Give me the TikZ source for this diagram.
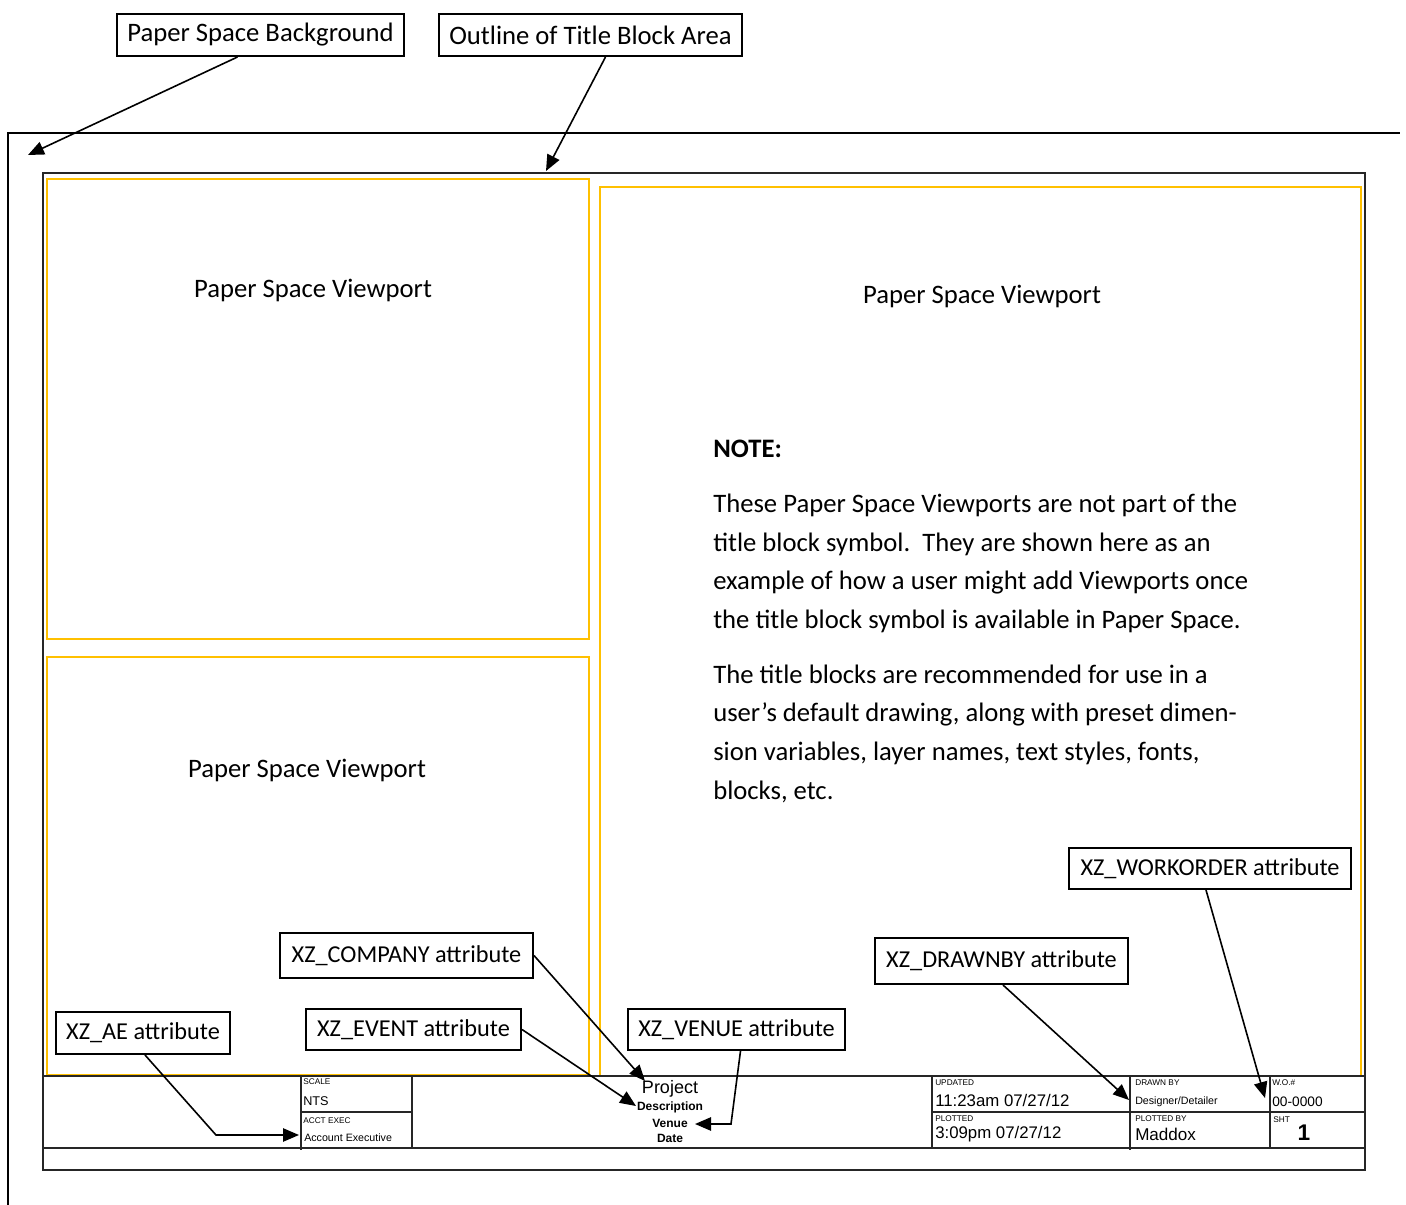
\documentclass[tikz,border=0pt]{standalone}
\usepackage{fontspec}
\setmainfont{Carlito}
\newfontfamily\arialf{Liberation Sans}
\usetikzlibrary{arrows.meta,calc}
\begin{document}
\begin{tikzpicture}[x=0.75pt,y=-0.75pt,
  lbl/.style={draw=black,line width=1.5pt,fill=white,inner sep=0pt,font=\fontsize{20}{22}\selectfont},
  albl/.style={lbl,font=\fontsize{18.2}{20}\selectfont},
  vp/.style={draw={rgb,255:red,255;green,192;blue,0},line width=1.6pt},
  tb/.style={draw=black!85,line width=1.1pt},
  arr/.style={draw=black,line width=1.2pt,-{Triangle[length=12pt,width=10pt]}},
  big/.style={font=\fontsize{20}{22}\selectfont},
  tiny/.style={font=\arialf\fontsize{6.2}{7}\selectfont,inner sep=0pt,anchor=west},
  val/.style={font=\arialf\fontsize{12.6}{13}\selectfont,inner sep=0pt,anchor=west},
  sml/.style={font=\arialf\fontsize{8}{9}\selectfont,inner sep=0pt,anchor=west},
  ctr/.style={font=\arialf\bfseries\fontsize{9}{10}\selectfont,inner sep=0pt},
  note/.style={font=\fontsize{20}{22}\selectfont,inner sep=0pt,anchor=base west}]
\useasboundingbox[fill=white] (0,0) rectangle (1406,1205);
% paper background
\draw[line width=1.2pt] (8,1205) -- (8,133) -- (1400,133);
% title block outline
\draw[tb] (43,173) rectangle (1365,1170);
% viewports
\draw[vp] (47,179) rectangle (589,639);
\draw[vp] (47,657) rectangle (589,1075);
\draw[vp] (600,187) rectangle (1361,1076);
% title block rows
\draw[tb] (43,1076) -- (1365,1076);
\draw[tb] (43,1148) -- (1365,1148);
\draw[tb] (301,1076) -- (301,1150);
\draw[tb] (412,1076) -- (412,1148);
\draw[tb] (932,1076) -- (932,1148);
\draw[tb] (1130,1076) -- (1130,1150);
\draw[tb] (1270,1076) -- (1270,1148);
\draw[tb] (301,1112) -- (412,1112);
\draw[tb] (932,1112) -- (1365,1112);
% title block texts
\node[tiny] (t1) at (303,1082) {SCALE};
\node[sml,font=\arialf\fontsize{9.5}{10}\selectfont] (t2) at (303,1101) {NTS};
\node[tiny] (t3) at (303,1121) {ACCT EXEC};
\node[sml] (t4) at (304,1138) {Account Executive};
\node[font=\arialf\fontsize{13.5}{14}\selectfont,inner sep=0pt] (p1) at (670,1089) {Project};
\node[ctr] (p2) at (670,1107) {Description};
\node[ctr] (p3) at (670,1123) {Venue};
\node[ctr] (p4) at (670,1138) {Date};
\node[tiny] (u1) at (935,1083) {UPDATED};
\node[val] (u2) at (935,1100) {11:23am 07/27/12};
\node[tiny] (u3) at (935,1119) {PLOTTED};
\node[val] (u4) at (935,1134) {3:09pm 07/27/12};
\node[tiny] (d1) at (1135,1083) {DRAWN BY};
\node[sml] (d2) at (1135,1102) {Designer/Detailer};
\node[tiny] (d3) at (1135,1119) {PLOTTED BY};
\node[val,font=\arialf\fontsize{12.8}{13}\selectfont] (d4) at (1135,1134) {Maddox};
\node[tiny] (w1) at (1272,1083) {W.O.\#};
\node[sml,font=\arialf\fontsize{10.3}{11}\selectfont] (w2) at (1272,1102) {00-0000};
\node[tiny] (w3) at (1273,1120) {SHT};
\node[font=\arialf\bfseries\fontsize{17}{18}\selectfont,inner sep=0pt] (w4) at (1304,1133) {1};
% viewport texts
\node[big] (v1) at (313,290) {Paper Space Viewport};
\node[big] (v2) at (307,770) {Paper Space Viewport};
\node[big] (v3) at (982,296) {Paper Space Viewport};
% note
\node[note,font=\bfseries\fontsize{20}{22}\selectfont] (n0) at (713,457) {NOTE:};
\node[note] (n1) at (713,512) {These Paper Space Viewports are not part of the};
\node[note] (n2) at (713,551) {title block symbol.\ \ They are shown here as an};
\node[note] (n3) at (713,589) {example of how a user might add Viewports once};
\node[note] (n4) at (713,628) {the title block symbol is available in Paper Space.};
\node[note] (n5) at (713,683) {The title blocks are recommended for use in a};
\node[note] (n6) at (713,721) {user’s default drawing, along with preset dimen-};
\node[note] (n7) at (713,760) {sion variables, layer names, text styles, fonts,};
\node[note] (n8) at (713,799) {blocks, etc.};
% label boxes
\node[lbl,minimum width=215.25pt,minimum height=31.5pt] (bgl) at (260.5,35) {Paper Space Background};
\node[lbl,minimum width=227.25pt,minimum height=31.5pt] (otl) at (590.5,35) {Outline of Title Block Area};
\node[albl,minimum width=211.5pt,minimum height=30.75pt] (wo) at (1210,868.5) {XZ\_WORKORDER attribute};
\node[albl,minimum width=189.75pt,minimum height=33.75pt] (co) at (406.5,955.5) {XZ\_COMPANY attribute};
\node[albl,minimum width=189.75pt,minimum height=34.5pt] (dr) at (1001.5,961) {XZ\_DRAWNBY attribute};
\node[albl,minimum width=130.5pt,minimum height=31.5pt] (ae) at (143,1033) {XZ\_AE attribute};
\node[albl,minimum width=161.25pt,minimum height=30.75pt] (ev) at (413.5,1029.5) {XZ\_EVENT attribute};
\node[albl,minimum width=162.75pt,minimum height=30.75pt] (ve) at (736.5,1029.5) {XZ\_VENUE attribute};
% arrow end coordinates
\coordinate (pbg) at (28,155);
\coordinate (tbo) at (546,171);
\coordinate (cot) at (645,1081);
\coordinate (evt) at (636,1106);
\coordinate (vek) at (731,1124);
\coordinate (vet) at (695,1124);
\coordinate (aek) at (216,1135);
\coordinate (aet) at (299,1135);
\coordinate (drt) at (1129,1100);
\coordinate (wot) at (1265,1098);
% arrows
\draw[arr] ($(bgl.south)+(-23,0)$) -- (pbg);
\draw[arr] ($(otl.south)+(15,0)$) -- (tbo);
\draw[arr] (co.east) -- (cot);
\draw[arr] (ev.east) -- (evt);
\draw[arr] ($(ve.south)+(4,0)$) -- (vek) -- (vet);
\draw[arr] ($(ae.south)+(2,0)$) -- (aek) -- (aet);
\draw[arr] ($(dr.south)+(1.5,0)$) -- (drt);
\draw[arr] ($(wo.south)+(-4,0)$) -- (wot);
\end{tikzpicture}
\end{document}
